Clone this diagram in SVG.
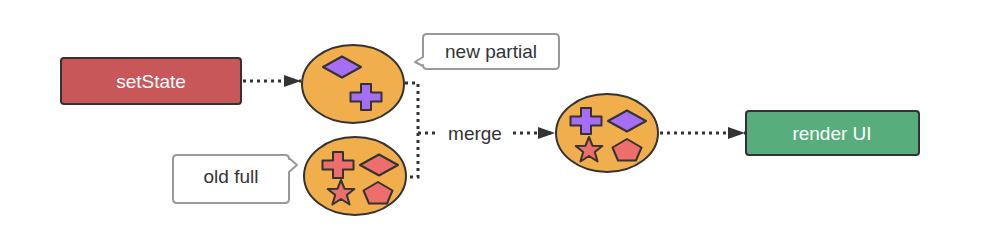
<svg xmlns="http://www.w3.org/2000/svg" width="983" height="237" viewBox="0 0 983 237">
<style>
.box{stroke:#333;stroke-width:2}
.lbl{font-family:"Liberation Sans",Arial,sans-serif;font-size:19px;text-anchor:middle;dominant-baseline:central}
.w{fill:#fff}
.d{fill:#333}
.ell{fill:#f1ae4d;stroke:#333;stroke-width:2}
.sh{stroke:#333;stroke-width:2;stroke-linejoin:round}
.pur{fill:#a66ef5}
.red{fill:#ee6e6b}
.call{fill:#fff;stroke:#999;stroke-width:2;stroke-linejoin:round}
.dot{fill:none;stroke:#333;stroke-width:3;stroke-dasharray:3 4}
</style>
<defs>
<marker id="ah" viewBox="0 0 17 12" refX="17" refY="6" markerWidth="17" markerHeight="12" markerUnits="userSpaceOnUse" orient="auto">
<path d="M0,0 L17,6 L0,12 Z" fill="#333"/>
</marker>
<path id="plus" d="M-5,-13 H5 V-4.5 H15.5 V4.5 H5 V13 H-5 V4.5 H-15.5 V-4.5 H-5 Z"/>
<path id="dia" d="M0,-10.5 L19,0 L0,10.5 L-19,0 Z"/>
<path id="star" d="M0,-13 L3.6,-4.2 L13.3,-4 L5.8,2 L8.6,11.5 L0,6 L-8.6,11.5 L-5.8,2 L-13.3,-4 L-3.6,-4.2 Z"/>
<path id="pent" d="M0,-11 L14.5,-2.5 L9,10.5 L-9,10.5 L-14.5,-2.5 Z"/>
</defs>

<g id="connectors">
<path class="dot" d="M243,81 H301" marker-end="url(#ah)"/>
<path class="dot" d="M405,83 H418 V177 H408"/>
<path class="dot" d="M418,133 H436"/>
<path class="dot" d="M513,133 H555" marker-end="url(#ah)"/>
<path class="dot" d="M660,133 H745" marker-end="url(#ah)"/>
<text class="lbl d" x="475" y="133">merge</text>
</g>

<g id="setState">
<rect class="box" x="61" y="58" width="180" height="46" rx="3" fill="#c8575a"/>
<text class="lbl w" x="151" y="81">setState</text>
</g>

<g id="new-partial">
<ellipse class="ell" cx="353" cy="84" rx="51" ry="39"/>
<use href="#dia" class="sh pur" x="342" y="67"/>
<use href="#plus" class="sh pur" x="366" y="97"/>
</g>

<g id="new-partial-callout">
<path class="call" d="M427,34 H555 Q559,34 559,38 V65 Q559,69 555,69 H427 Q423,69 423,65 V66 L415,62 L423,57 V38 Q423,34 427,34 Z"/>
<text class="lbl d" x="491" y="51">new partial</text>
</g>

<g id="old-full">
<ellipse class="ell" cx="355" cy="176" rx="51" ry="39"/>
<use href="#plus" class="sh red" x="338" y="165"/>
<use href="#dia" class="sh red" x="379" y="165"/>
<use href="#star" class="sh red" x="341" y="193"/>
<use href="#pent" class="sh red" x="378" y="193"/>
</g>

<g id="old-full-callout">
<path class="call" d="M177,155 H285 Q289,155 289,159 V158 L297,165 L289,172 V199 Q289,203 285,203 H177 Q173,203 173,199 V159 Q173,155 177,155 Z"/>
<text class="lbl d" x="231" y="176">old full</text>
</g>

<g id="merged">
<ellipse class="ell" cx="607" cy="133" rx="51" ry="39"/>
<use href="#plus" class="sh pur" x="586" y="121"/>
<use href="#dia" class="sh pur" x="627" y="121"/>
<use href="#star" class="sh red" x="589" y="150"/>
<use href="#pent" class="sh red" x="627" y="150"/>
</g>

<g id="render-ui">
<rect class="box" x="746" y="111" width="173" height="44" rx="3" fill="#57ad7b"/>
<text class="lbl w" x="832" y="133">render UI</text>
</g>
</svg>
